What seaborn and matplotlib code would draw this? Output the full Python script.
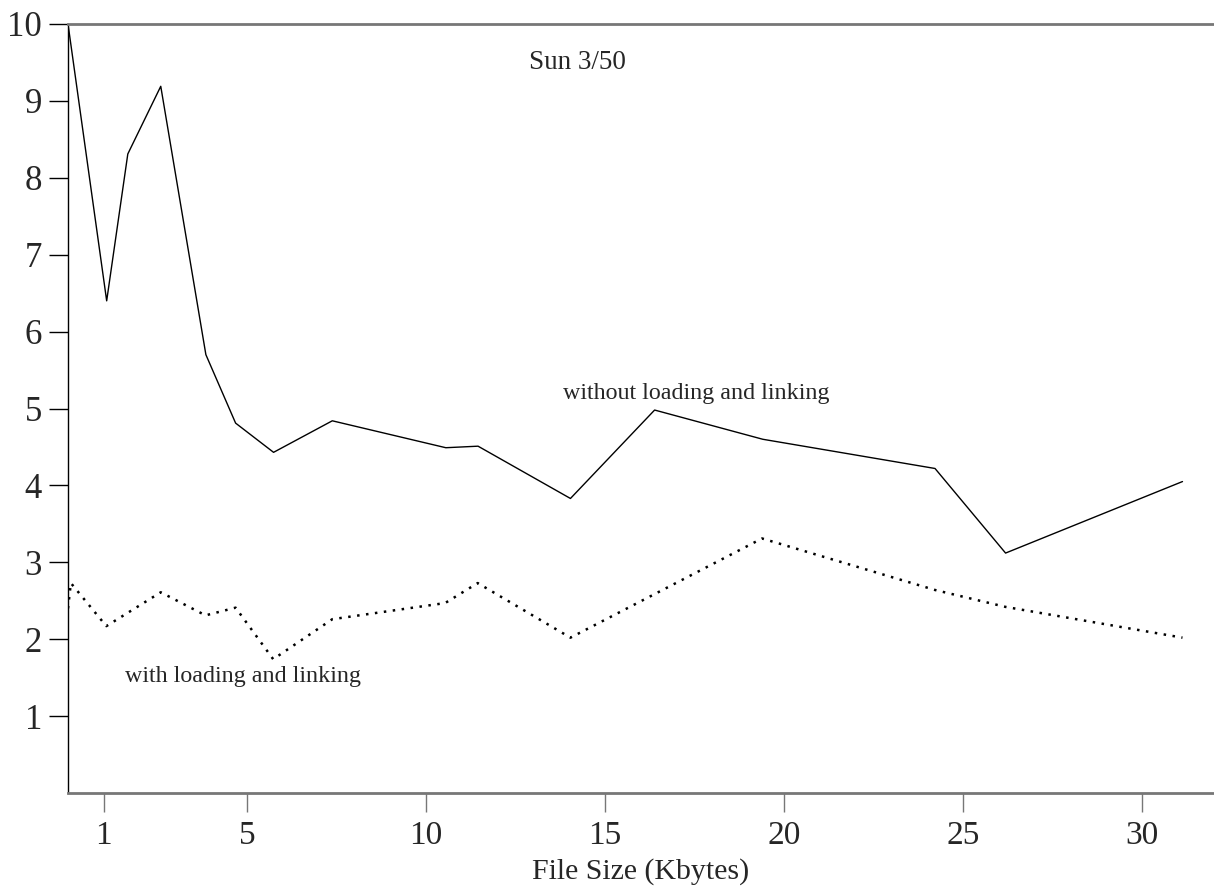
import numpy as np
import pandas as pd
import seaborn as sns
import matplotlib.pyplot as plt

# File size (Kbytes) vs time, Sun 3/50
SIZE_WITHOUT = [0.0, 1.08, 1.67, 2.59, 3.85, 4.68, 5.74, 7.38, 10.55, 11.45,
                14.03, 16.38, 19.40, 24.21, 26.18, 31.12]
TIME_WITHOUT = [10.0, 6.40, 8.31, 9.19, 5.70, 4.81, 4.43, 4.84, 4.49, 4.51,
                3.83, 4.98, 4.60, 4.22, 3.12, 4.05]

SIZE_WITH = [0.0, 0.08, 1.07, 2.59, 3.84, 4.68, 5.73, 7.38, 10.53, 11.44,
             14.03, 19.38, 24.21, 26.18, 31.12]
TIME_WITH = [2.40, 2.73, 2.17, 2.61, 2.31, 2.41, 1.74, 2.26, 2.47, 2.73,
             2.02, 3.31, 2.64, 2.42, 2.02]

X_TICKS = [1, 5, 10, 15, 20, 25, 30]
Y_TICKS = [1, 2, 3, 4, 5, 6, 7, 8, 9, 10]

SPINE_GREY = "#777777"


def main():
    sns.set_style("ticks")
    plt.rcParams["font.family"] = ["Liberation Serif", "DejaVu Serif"]

    df_without = pd.DataFrame({"size": SIZE_WITHOUT, "time": TIME_WITHOUT})
    df_with = pd.DataFrame({"size": SIZE_WITH, "time": TIME_WITH})

    fig = plt.figure(figsize=(12.14, 8.92), dpi=100)
    ax = fig.add_axes([68 / 1214, 99 / 892, 1146 / 1214, 769 / 892])

    sns.lineplot(data=df_without, x="size", y="time", sort=False,
                 color="black", linewidth=1.0, ax=ax)
    sns.lineplot(data=df_with, x="size", y="time", sort=False,
                 color="black", linewidth=1.8, linestyle=(0, (1, 2.6)), ax=ax)

    ax.set_xlim(0, 32)
    ax.set_ylim(0, 10)
    ax.set_xticks(X_TICKS)
    ax.set_yticks(Y_TICKS)
    ax.tick_params(axis="y", labelsize=25, length=13.7, width=1.0, pad=5,
                   color="black")
    ax.tick_params(axis="x", labelsize=24, length=13.7, width=1.0, pad=6,
                   color=SPINE_GREY)

    ax.spines["right"].set_visible(False)
    ax.spines["left"].set_color("black")
    ax.spines["left"].set_linewidth(1.0)
    for side in ["top", "bottom"]:
        ax.spines[side].set_color(SPINE_GREY)
        ax.spines[side].set_linewidth(2.0)

    ax.set_xlabel("File Size (Kbytes)", fontsize=21.5)
    ax.xaxis.set_label_coords(0.5, -(872 - 793) / 769)
    ax.xaxis.label.set_va("center")
    ax.set_ylabel("")

    ax.text(14.23, 9.5, "Sun 3/50", fontsize=19.5, ha="center", va="center")
    ax.text(13.81, 5.2, "without loading and linking", fontsize=17.3,
            ha="left", va="center")
    ax.text(1.59, 1.51, "with loading and linking", fontsize=17.3,
            ha="left", va="center")

    plt.savefig("out.png", dpi=100)


if __name__ == "__main__":
    main()
